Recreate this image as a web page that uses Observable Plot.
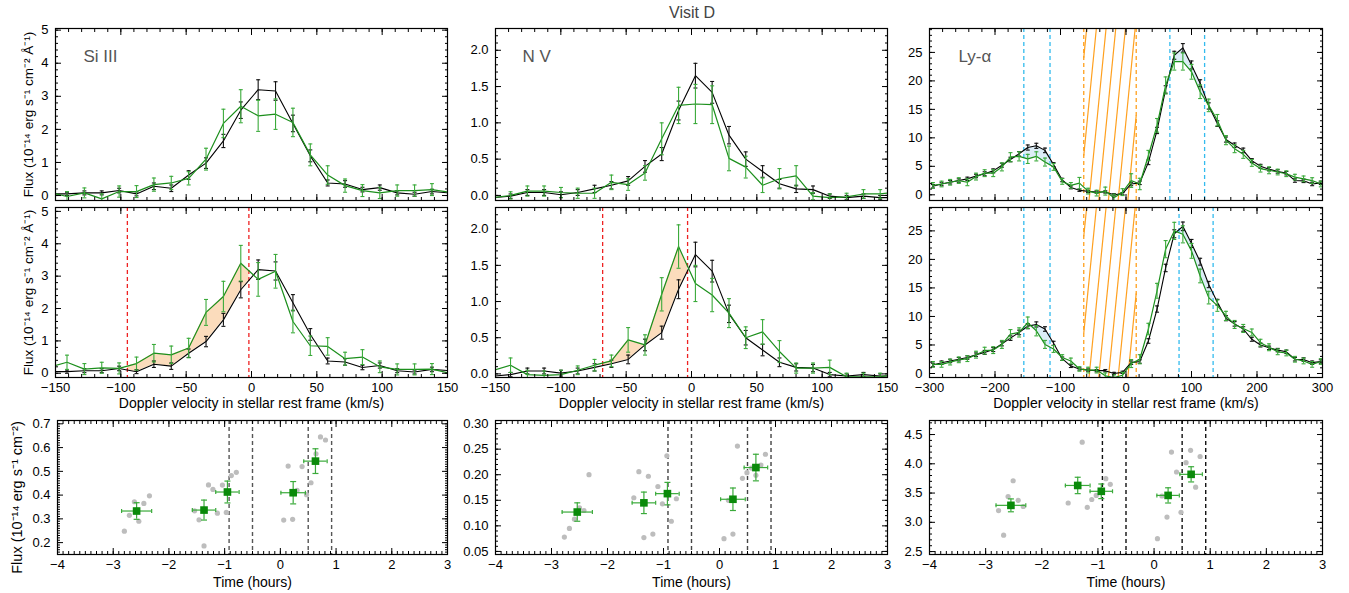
<!DOCTYPE html>
<html><head><meta charset="utf-8">
<script src="https://cdn.jsdelivr.net/npm/d3@7"></script>
<script src="https://cdn.jsdelivr.net/npm/@observablehq/plot@0.6"></script>
<style>
body{margin:0;background:#fff;font-family:"Liberation Sans",Arial,Helvetica,sans-serif;}
#root{position:relative;width:1349px;height:593px;overflow:hidden;background:#fff;}
.panel{position:absolute;}
.panel svg{display:block;}
#title{position:absolute;left:0;width:1384px;top:4px;text-align:center;font-size:16px;color:#444;}
</style></head><body>
<div id="root"><div id="title">Visit D</div></div>
<script>
const FONT = '"Liberation Sans", Arial, Helvetica, sans-serif';
const GREEN = "#1c8f1c", GREEN_ERR = "#3aaa3a", ORANGE = "#ffa01e", BLUE = "#33bbee";

// ---------- Si III ----------
const siV = [-154.5,-141.2,-127.9,-114.6,-101.3,-88.0,-74.7,-61.4,-48.1,-34.8,-21.5,-8.2,5.1,18.4,31.7,45.0,58.3,71.6,84.9,98.2,111.5,124.8,138.1,151.4];
const siRef = [0.05,0.05,0.08,0.08,0.15,0.05,0.28,0.22,0.62,0.98,1.65,2.58,3.2,3.16,2.18,1.2,0.38,0.35,0.18,0.24,0.08,0.04,0.12,0.08];
const siRefErr = [0.05,0.05,0.06,0.06,0.07,0.06,0.1,0.1,0.13,0.16,0.2,0.25,0.3,0.28,0.25,0.18,0.09,0.1,0.07,0.08,0.06,0.06,0.07,0.06];
const siObsTop = [0.1,-0.03,0.08,-0.1,0.12,0.12,0.33,0.38,0.52,1.1,2.18,2.7,2.41,2.46,2.21,1.23,0.62,0.3,0.15,0.08,0.15,0.15,0.18,0.1];
const siObsTopErr = [0.15,0.15,0.15,0.15,0.17,0.18,0.2,0.2,0.2,0.33,0.43,0.5,0.47,0.46,0.43,0.33,0.28,0.2,0.18,0.17,0.17,0.17,0.18,0.15];
const siObsMid = [0.19,0.34,0.13,0.17,0.15,0.3,0.62,0.57,0.78,1.88,2.37,3.4,2.9,3.15,1.6,0.85,0.83,0.45,0.5,0.2,0.12,0.12,0.13,0.0];
const siObsMidErr = [0.2,0.22,0.17,0.17,0.17,0.2,0.27,0.27,0.3,0.4,0.47,0.55,0.52,0.52,0.35,0.3,0.27,0.2,0.23,0.18,0.17,0.17,0.17,0.15];
const siRed = [-95, -2];

// ---------- N V ----------
const nvV = [-151.4,-138.5,-125.6,-112.8,-99.9,-87.1,-74.2,-61.3,-48.5,-35.6,-22.8,-9.9,3.0,15.8,28.7,41.5,54.4,67.3,80.1,93.0,105.8,118.7,131.6,144.4,157.3];
const nvRef = [-0.03,-0.01,0.04,0.04,0.01,0.04,0.09,0.14,0.2,0.4,0.57,1.17,1.65,1.42,0.83,0.5,0.33,0.16,0.09,0.08,-0.01,-0.03,-0.01,-0.03,-0.03];
const nvRefErr = [0.03,0.03,0.04,0.04,0.04,0.04,0.05,0.05,0.06,0.08,0.09,0.13,0.17,0.15,0.12,0.1,0.08,0.06,0.05,0.05,0.03,0.03,0.03,0.03,0.03];
const nvObsTop = [-0.03,0.0,0.06,0.06,0.04,0.03,0.03,0.18,0.15,0.31,0.78,1.24,1.26,1.25,0.51,0.39,0.14,0.23,0.27,-0.01,-0.03,-0.02,0.02,0.02,0.05];
const nvObsTopErr = [0.05,0.05,0.07,0.07,0.07,0.07,0.07,0.1,0.08,0.1,0.22,0.25,0.27,0.26,0.17,0.15,0.1,0.14,0.14,0.05,0.05,0.05,0.06,0.06,0.05];
const nvObsMid = [0.05,0.12,-0.01,-0.02,-0.01,0.05,0.12,0.18,0.47,0.4,1.1,1.76,1.25,1.09,0.84,0.5,0.58,0.31,0.08,0.08,0.09,-0.04,-0.04,-0.04,0.0];
const nvObsMidErr = [0.08,0.1,0.06,0.06,0.06,0.06,0.08,0.08,0.17,0.14,0.23,0.3,0.25,0.23,0.2,0.15,0.17,0.15,0.07,0.07,0.1,0.05,0.05,0.05,0.05];
const nvRed = [-68, -3];

// ---------- Ly-alpha ----------
const lyV = [-294.8,-281.6,-268.5,-255.3,-242.2,-229.0,-215.8,-202.7,-189.5,-176.4,-163.2,-150.0,-136.9,-123.7,-110.6,-97.4,-84.2,-71.1,-57.9,-44.8,-31.6,-18.4,-5.3,7.9,21.0,34.2,47.4,60.5,73.7,86.8,100.0,113.2,126.3,139.5,152.6,165.8,179.0,192.1,205.3,218.4,231.6,244.8,257.9,271.1,284.2,297.4];
const lyRef = [1.5,1.9,2.2,2.5,2.8,3.3,3.7,4.2,5.2,6.2,7.2,8.3,8.6,7.8,5.3,2.6,1.3,0.8,0.6,0.5,0.5,0.0,0.2,1.9,2.1,5.7,11.3,18.5,24.5,25.8,22.8,19.6,15.6,12.5,9.7,8.7,7.8,6.0,5.0,4.5,4.1,3.8,2.5,2.45,1.9,2.1];
const lyRefErr = [0.3,0.3,0.3,0.3,0.3,0.3,0.35,0.35,0.35,0.4,0.4,0.45,0.45,0.4,0.35,0.3,0.25,0.2,0.2,0.2,0.2,0.2,0.2,0.3,0.3,0.4,0.55,0.65,0.7,0.75,0.7,0.6,0.55,0.5,0.45,0.4,0.4,0.35,0.35,0.3,0.3,0.3,0.3,0.3,0.3,0.3];
const lyObsTop = [1.65,1.9,2.2,2.5,2.2,3.2,3.8,3.8,4.9,6.6,6.75,6.3,6.75,5.75,4.9,2.35,1.65,2.05,0.65,0.3,0.65,-0.5,0.47,2.5,1.9,6.9,12.2,19.2,23.4,23.4,21.6,18.1,15.7,13.1,9.6,8.1,7.1,5.6,4.6,4.3,4.0,3.7,3.1,2.8,2.5,1.9];
const lyObsTopErr = [0.5,0.5,0.5,0.5,0.6,0.6,0.6,0.6,0.7,0.8,0.8,0.8,0.8,0.7,0.6,0.5,0.5,1.0,0.5,0.5,0.7,0.6,0.6,1.2,1.0,0.9,1.2,1.5,1.5,1.5,1.3,1.2,1.1,1.0,0.8,0.7,0.7,0.6,0.6,0.6,0.5,0.5,0.5,0.5,0.5,0.5];
const lyObsMid = [1.6,1.6,2.0,2.4,2.6,3.3,4.0,4.1,5.1,6.9,7.2,8.9,7.5,5.1,4.3,2.8,2.2,0.8,0.6,0.6,-0.4,-0.7,-0.3,1.75,2.5,7.8,14.5,21.8,25.0,24.4,21.5,17.1,13.3,11.9,10.1,8.6,7.9,7.2,5.4,4.6,3.8,3.6,2.5,2.2,1.6,2.1];
const lyObsMidErr = [0.5,0.5,0.5,0.5,0.5,0.6,0.6,0.6,0.7,0.8,0.8,1.0,0.9,0.7,0.6,0.5,0.5,0.4,0.5,0.5,0.5,0.5,0.5,0.7,0.8,1.0,1.3,1.5,1.5,1.5,1.3,1.2,1.1,1.0,0.8,0.7,0.7,0.6,0.6,0.6,0.5,0.5,0.5,0.5,0.5,0.5];
const lyBlueTop = [-156, -116, 67, 120];
const lyBlueMid = [-156, -116, 81, 133];
const lyHatch = [-64.5, 15.6];

// ---------- light curves ----------
const timeDashes = [-0.92, -0.5, 0.5, 0.92];
const siSqX = [-2.58,-1.37,-0.95,0.23,0.63];
const siSqY = [0.333,0.337,0.413,0.41,0.543];
const siSqXErr = [0.27,0.21,0.21,0.22,0.21];
const siSqYErr = [0.035,0.042,0.046,0.047,0.052];
const siGrayX = [-2.80,-2.71,-2.62,-2.54,-2.45,-2.35,-1.54,-1.46,-1.37,-1.29,-1.21,-1.13,-1.04,-0.97,-0.88,-0.79,0.06,0.14,0.22,0.30,0.39,0.47,0.55,0.64,0.72,0.81];
const siGrayY = [0.248,0.315,0.372,0.29,0.365,0.397,0.334,0.296,0.186,0.443,0.424,0.324,0.442,0.327,0.482,0.496,0.295,0.522,0.298,0.42,0.52,0.402,0.452,0.574,0.645,0.632];

const nvSqX = [-2.54,-1.35,-0.93,0.24,0.65];
const nvSqY = [0.127,0.145,0.163,0.152,0.214];
const nvSqXErr = [0.27,0.21,0.21,0.22,0.21];
const nvSqYErr = [0.018,0.021,0.022,0.022,0.026];
const nvGrayX = [-2.77,-2.68,-2.59,-2.50,-2.42,-2.33,-1.53,-1.44,-1.35,-1.27,-1.19,-1.10,-1.02,-0.94,-0.86,-0.77,0.08,0.16,0.24,0.32,0.41,0.49,0.57,0.65,0.74,0.82];
const nvGrayY = [0.078,0.095,0.113,0.135,0.13,0.2,0.155,0.206,0.077,0.197,0.084,0.177,0.143,0.237,0.109,0.153,0.075,0.15,0.084,0.256,0.193,0.204,0.213,0.199,0.219,0.24];

const lySqX = [-2.55,-1.36,-0.94,0.25,0.66];
const lySqY = [3.29,3.63,3.53,3.46,3.82];
const lySqXErr = [0.265,0.22,0.2,0.2,0.2];
const lySqYErr = [0.11,0.14,0.125,0.13,0.13];
const lyGrayX = [-2.77,-2.68,-2.60,-2.51,-2.42,-2.33,-1.53,-1.28,-1.19,-1.11,-1.03,-0.86,-0.78,0.06,0.14,0.23,0.31,0.40,0.48,0.57,0.65,0.74,0.82];
const lyGrayY = [3.2,2.78,3.44,3.71,3.375,3.27,3.33,4.37,3.255,3.39,3.46,3.745,3.65,2.72,3.45,3.09,4.2,3.86,3.17,4.02,4.23,3.6,4.125];

// ---------- ticks ----------
const narrowXTicks = [-150,-100,-50,0,50,100,150];
const wideXTicks = [-300,-200,-100,0,100,200,300];
const timeTicks = [-4,-3,-2,-1,0,1,2,3];
const siYTicks = [0,1,2,3,4,5];
const nvYTicks = [0,0.5,1,1.5,2];
const lyYTicks = [0,5,10,15,20,25];
const siTimeYTicks = [0.2,0.3,0.4,0.5,0.6,0.7];
const nvTimeYTicks = [0.05,0.10,0.15,0.20,0.25,0.30];
const lyTimeYTicks = [2.5,3.0,3.5,4.0,4.5];

const fluxTitle = "Flux (10\u207B\u00B9\u2074 erg s\u207B\u00B9 cm\u207B\u00B2 \u00C5\u207B\u00B9)";
const fluxTitle2 = "Flux (10\u207B\u00B9\u2074 erg s\u207B\u00B9 cm\u207B\u00B2)";

// ---------- helpers ----------
const root = document.getElementById("root");
const blank = () => "";
const capH = {draw(ctx, size){const r = Math.sqrt(size/Math.PI); ctx.moveTo(-r,0); ctx.lineTo(r,0);}};
const capV = {draw(ctx, size){const r = Math.sqrt(size/Math.PI); ctx.moveTo(0,-r); ctx.lineTo(0,r);}};

function interp(xs, ys, x) {
  for (let i = 0; i < xs.length - 1; i++) {
    if (x >= xs[i] && x <= xs[i+1]) {
      const t = (x - xs[i]) / (xs[i+1] - xs[i]);
      return ys[i] + t * (ys[i+1] - ys[i]);
    }
  }
  return NaN;
}
function bandRows(xs, ref, obs, bounds) {
  const rows = [];
  for (let g = 0; g < bounds.length; g += 2) {
    const a = bounds[g], b = bounds[g+1];
    const pts = [a, ...xs.filter(x => x > a && x < b), b];
    pts.forEach(x => rows.push({x, y1: interp(xs, ref, x), y2: interp(xs, obs, x), g}));
  }
  return rows;
}
// diagonal hatch segments inside [a,b] x [y0,y1]; tilt and step in x-units
function hatchRows([a, b], [y0, y1], tilt, step) {
  const rows = [];
  for (let xb = a - tilt + step * 0.3; xb < b; xb += step) {
    const xt = xb + tilt;
    let sx = xb, sy = y0, ex = xt, ey = y1;
    if (sx < a) { sy = y0 + (a - xb) / tilt * (y1 - y0); sx = a; }
    if (ex > b) { ey = y0 + (b - xb) / tilt * (y1 - y0); ex = b; }
    if (ex > sx) rows.push({x1: sx, y1: sy, x2: ex, y2: ey});
  }
  return rows;
}
function yErr(rows, color, w = 1.1) {
  return [
    Plot.ruleX(rows, {x: "x", y1: d => d.y - d.e, y2: d => d.y + d.e, stroke: color, strokeWidth: w, clip: true}),
    Plot.dot(rows, {x: "x", y: d => d.y - d.e, symbol: capH, r: 2, fill: "none", stroke: color, strokeWidth: w, clip: true}),
    Plot.dot(rows, {x: "x", y: d => d.y + d.e, symbol: capH, r: 2, fill: "none", stroke: color, strokeWidth: w, clip: true})
  ];
}
function frameAxes({xMajor, xMinor, yMajor, yMinor, xFmt, yFmt, xLabels}) {
  return [
    Plot.axisX({anchor: "bottom", ticks: xMajor, tickSize: -6, tickPadding: 11, tickFormat: xLabels ? xFmt : blank, label: null, fill: "black"}),
    Plot.axisX({anchor: "bottom", ticks: xMinor, tickSize: -3, tickFormat: blank, label: null}),
    Plot.axisX({anchor: "top", ticks: xMajor, tickSize: -6, tickFormat: blank, label: null}),
    Plot.axisX({anchor: "top", ticks: xMinor, tickSize: -3, tickFormat: blank, label: null}),
    Plot.axisY({anchor: "left", ticks: yMajor, tickSize: -6, tickPadding: 13, tickFormat: yFmt, label: null, fill: "black"}),
    Plot.axisY({anchor: "left", ticks: yMinor, tickSize: -3, tickFormat: blank, label: null}),
    Plot.axisY({anchor: "right", ticks: yMajor, tickSize: -6, tickFormat: blank, label: null}),
    Plot.axisY({anchor: "right", ticks: yMinor, tickSize: -3, tickFormat: blank, label: null}),
    Plot.frame({stroke: "black", strokeWidth: 1.2})
  ];
}
function mount(svg, left, top, width) {
  const div = document.createElement("div");
  div.className = "panel";
  div.style.left = left + "px";
  div.style.top = top + "px";
  div.style.width = width + "px";
  div.appendChild(svg);
  root.appendChild(div);
}
const ROWS = {
  top: {svgTop: 0, mt: 28, fh: 172, mb: 8},
  mid: {svgTop: 200, mt: 7, fh: 170, mb: 40},
  bot: {svgTop: 405, mt: 15, fh: 134, mb: 38}
};
const COLS = [{fl: 55, fw: 392, ml: 55}, {fl: 495, fw: 392, ml: 45}, {fl: 929, fw: 393, ml: 45}];
const MR = 20;
const fmtInt = d3.format("d");

function makePlot(col, row, xDomain, yDomain, marks) {
  const W = col.ml + col.fw + MR;
  const H = row.mt + row.fh + row.mb;
  const svg = Plot.plot({
    width: W, height: H,
    marginLeft: col.ml, marginRight: MR, marginTop: row.mt, marginBottom: row.mb,
    x: {domain: xDomain, label: null},
    y: {domain: yDomain, label: null},
    style: {background: "transparent", overflow: "visible", fontFamily: FONT, fontSize: "13px", color: "black"},
    marks
  });
  svg.querySelectorAll('g[aria-label$="tick label"]').forEach(g => {
    g.setAttribute("font-size", "13");
    g.style.fontSize = "13px";
    g.querySelectorAll("text").forEach(t => t.style.fontSize = "13px");
  });
  mount(svg, col.fl - col.ml, row.svgTop, W);
}

function spectrum(o) {
  const refRows = o.v.map((x, i) => ({x, y: o.ref[i], e: o.refErr[i]}));
  const obsRows = o.v.map((x, i) => ({x, y: o.obs[i], e: o.obsErr[i]}));
  const marks = [];
  if (o.hatch) {
    marks.push(Plot.link(hatchRows(o.hatch, o.yDomain, 26, 14.8), {x1: "x1", y1: "y1", x2: "x2", y2: "y2", stroke: ORANGE, strokeWidth: 1.2}));
    marks.push(Plot.ruleX(o.hatch, {stroke: ORANGE, strokeDasharray: "4,3", strokeWidth: 1.3}));
  }
  if (o.fills) marks.push(Plot.areaY(bandRows(o.v, o.ref, o.obs, o.fills), {x: "x", y1: "y1", y2: "y2", z: "g", fill: o.fillColor}));
  if (o.dashed) marks.push(Plot.ruleX(o.dashed, {stroke: o.dashColor, strokeDasharray: "4,3", strokeWidth: 1.3}));
  marks.push(Plot.line(refRows, {x: "x", y: "y", stroke: "black", strokeWidth: 1.1, clip: true}));
  marks.push(...yErr(refRows, "#111"));
  marks.push(Plot.line(obsRows, {x: "x", y: "y", stroke: GREEN, strokeWidth: 1.2, clip: true}));
  marks.push(...yErr(obsRows, GREEN_ERR));
  marks.push(...frameAxes({xMajor: o.xTicks, xMinor: o.xMinor, yMajor: o.yTicks, yMinor: o.yMinor, xFmt: fmtInt, yFmt: o.yFmt, xLabels: o.xLabels}));
  if (o.label) marks.push(Plot.text([o.label], {frameAnchor: "top-left", text: d => d, dx: o.labelDx, dy: 28, textAnchor: "start", lineAnchor: "middle", fontSize: 17, fill: "#555"}));
  if (o.yTitle) marks.push(Plot.text([o.yTitle], {frameAnchor: "left", text: d => d, rotate: -90, dx: -27, textAnchor: "middle", lineAnchor: "middle", fontSize: 13.5, fill: "black"}));
  if (o.xLabels) marks.push(Plot.text(["Doppler velocity in stellar rest frame (km/s)"], {frameAnchor: "bottom", text: d => d, dy: 21, textAnchor: "middle", lineAnchor: "top", fontSize: 14, fill: "black"}));
  makePlot(o.col, o.row, o.xDomain, o.yDomain, marks);
}

function lightCurve(o) {
  const sq = o.sqX.map((x, i) => ({x, y: o.sqY[i], ex: o.sqXErr[i], ey: o.sqYErr[i]}));
  const gray = o.grayX.map((x, i) => ({x, y: o.grayY[i]}));
  const marks = [
    Plot.ruleX(timeDashes, {stroke: o.dashColor, strokeDasharray: "4,3", strokeWidth: 1.4}),
    Plot.dot(gray, {x: "x", y: "y", r: 2.6, fill: "#bdbdbd"}),
    Plot.ruleY(sq, {y: "y", x1: d => d.x - d.ex, x2: d => d.x + d.ex, stroke: GREEN_ERR, strokeWidth: 1.2}),
    Plot.dot(sq, {x: d => d.x - d.ex, y: "y", symbol: capV, r: 2, fill: "none", stroke: GREEN_ERR, strokeWidth: 1.2}),
    Plot.dot(sq, {x: d => d.x + d.ex, y: "y", symbol: capV, r: 2, fill: "none", stroke: GREEN_ERR, strokeWidth: 1.2}),
    Plot.ruleX(sq, {x: "x", y1: d => d.y - d.ey, y2: d => d.y + d.ey, stroke: GREEN_ERR, strokeWidth: 1.2}),
    Plot.dot(sq, {x: "x", y: d => d.y - d.ey, symbol: capH, r: 3, fill: "none", stroke: GREEN_ERR, strokeWidth: 1.2}),
    Plot.dot(sq, {x: "x", y: d => d.y + d.ey, symbol: capH, r: 3, fill: "none", stroke: GREEN_ERR, strokeWidth: 1.2}),
    Plot.dot(sq, {x: "x", y: "y", symbol: "square", r: 4.3, fill: "#0a8a0a"}),
    ...frameAxes({xMajor: timeTicks, xMinor: d3.range(-4, 3.001, 0.1), yMajor: o.yTicks, yMinor: o.yMinor, xFmt: fmtInt, yFmt: o.yFmt, xLabels: true}),
    Plot.text(["Time (hours)"], {frameAnchor: "bottom", text: d => d, dy: 23, textAnchor: "middle", lineAnchor: "top", fontSize: 14, fill: "black"})
  ];
  if (o.yTitle) marks.push(Plot.text([o.yTitle], {frameAnchor: "left", text: d => d, rotate: -90, dx: -40, dy: 10, textAnchor: "middle", lineAnchor: "middle", fontSize: 14.5, fill: "black"}));
  makePlot(o.col, ROWS.bot, [-4, 3], o.yDomain, marks);
}

const nMinor = d3.range(-150, 150.001, 10);
const wMinor = d3.range(-300, 300.001, 20);

// Si III
spectrum({col: COLS[0], row: ROWS.top, v: siV, ref: siRef, refErr: siRefErr, obs: siObsTop, obsErr: siObsTopErr,
  xDomain: [-150, 150], yDomain: [-0.15, 5.05], xTicks: narrowXTicks, xMinor: nMinor, yTicks: siYTicks, yMinor: d3.range(0, 5.001, 0.2),
  yFmt: fmtInt, xLabels: false, label: "Si III", labelDx: 28, yTitle: fluxTitle});
spectrum({col: COLS[0], row: ROWS.mid, v: siV, ref: siRef, refErr: siRefErr, obs: siObsMid, obsErr: siObsMidErr,
  xDomain: [-150, 150], yDomain: [-0.13, 5.12], xTicks: narrowXTicks, xMinor: nMinor, yTicks: siYTicks, yMinor: d3.range(0, 5.001, 0.2),
  yFmt: fmtInt, xLabels: true, yTitle: fluxTitle, fills: siRed, fillColor: "#fbdcbc", dashed: siRed, dashColor: "#ee2222"});
// N V
spectrum({col: COLS[1], row: ROWS.top, v: nvV, ref: nvRef, refErr: nvRefErr, obs: nvObsTop, obsErr: nvObsTopErr,
  xDomain: [-150, 150], yDomain: [-0.07, 2.3], xTicks: narrowXTicks, xMinor: nMinor, yTicks: nvYTicks, yMinor: d3.range(0, 2.301, 0.1),
  yFmt: d3.format(".1f"), xLabels: false, label: "N V", labelDx: 27});
spectrum({col: COLS[1], row: ROWS.mid, v: nvV, ref: nvRef, refErr: nvRefErr, obs: nvObsMid, obsErr: nvObsMidErr,
  xDomain: [-150, 150], yDomain: [-0.05, 2.3], xTicks: narrowXTicks, xMinor: nMinor, yTicks: nvYTicks, yMinor: d3.range(0, 2.301, 0.1),
  yFmt: d3.format(".1f"), xLabels: true, fills: nvRed, fillColor: "#fbdcbc", dashed: nvRed, dashColor: "#ee2222"});
// Ly-alpha
spectrum({col: COLS[2], row: ROWS.top, v: lyV, ref: lyRef, refErr: lyRefErr, obs: lyObsTop, obsErr: lyObsTopErr,
  xDomain: [-300, 300], yDomain: [-1.0, 29.2], xTicks: wideXTicks, xMinor: wMinor, yTicks: lyYTicks, yMinor: d3.range(0, 29.001, 1),
  yFmt: fmtInt, xLabels: false, label: "Ly-\u03B1", labelDx: 29, fills: lyBlueTop, fillColor: "#dcedf7", dashed: lyBlueTop, dashColor: BLUE, hatch: lyHatch});
spectrum({col: COLS[2], row: ROWS.mid, v: lyV, ref: lyRef, refErr: lyRefErr, obs: lyObsMid, obsErr: lyObsMidErr,
  xDomain: [-300, 300], yDomain: [-0.7, 29.1], xTicks: wideXTicks, xMinor: wMinor, yTicks: lyYTicks, yMinor: d3.range(0, 29.001, 1),
  yFmt: fmtInt, xLabels: true, fills: lyBlueMid, fillColor: "#dcedf7", dashed: lyBlueMid, dashColor: BLUE, hatch: lyHatch});

// light curves
lightCurve({col: {fl: 57, fw: 390, ml: 57}, sqX: siSqX, sqY: siSqY, sqXErr: siSqXErr, sqYErr: siSqYErr, grayX: siGrayX, grayY: siGrayY,
  yDomain: [0.15, 0.714], yTicks: siTimeYTicks, yMinor: d3.range(0.15, 0.7001, 0.01), yFmt: d3.format(".1f"), dashColor: "#555", yTitle: fluxTitle2});
lightCurve({col: COLS[1], sqX: nvSqX, sqY: nvSqY, sqXErr: nvSqXErr, sqYErr: nvSqYErr, grayX: nvGrayX, grayY: nvGrayY,
  yDomain: [0.044, 0.306], yTicks: nvTimeYTicks, yMinor: d3.range(0.05, 0.3001, 0.01), yFmt: d3.format(".2f"), dashColor: "#444"});
lightCurve({col: COLS[2], sqX: lySqX, sqY: lySqY, sqXErr: lySqXErr, sqYErr: lySqYErr, grayX: lyGrayX, grayY: lyGrayY,
  yDomain: [2.45, 4.74], yTicks: lyTimeYTicks, yMinor: d3.range(2.5, 4.7001, 0.1), yFmt: d3.format(".1f"), dashColor: "#111"});
</script>
</body></html>
